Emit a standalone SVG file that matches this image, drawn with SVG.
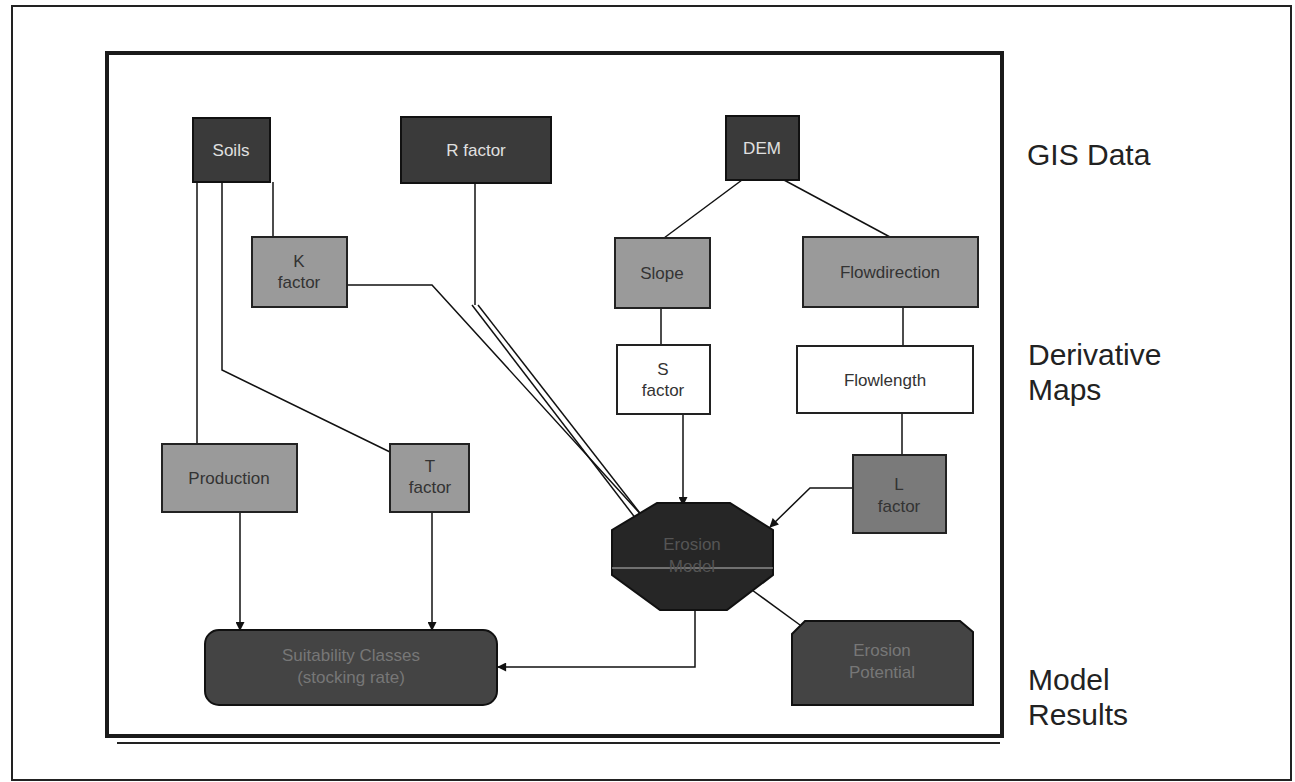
<svg xmlns="http://www.w3.org/2000/svg" width="1295" height="782" viewBox="0 0 1295 782">
<defs>
<marker id="ah" viewBox="0 0 10 10" refX="9" refY="5" markerWidth="10" markerHeight="9" markerUnits="userSpaceOnUse" orient="auto">
<path d="M0,0 L10,5 L0,10 z" fill="#111"/>
</marker>
<style>
.dark{fill:#3a3a3a;stroke:#111;stroke-width:2}
.gray{fill:#9a9a9a;stroke:#222;stroke-width:2}
.mid{fill:#7a7a7a;stroke:#222;stroke-width:2}
.white{fill:#fff;stroke:#222;stroke-width:2}
.lt{font-family:"Liberation Sans",Arial,sans-serif;font-size:17px;fill:#e0e0e0;text-anchor:middle}
.dt{font-family:"Liberation Sans",Arial,sans-serif;font-size:17px;fill:#333;text-anchor:middle}
.side{font-family:"Liberation Sans",Arial,sans-serif;font-size:30px;fill:#222}
.c{fill:none;stroke:#111;stroke-width:1.5}
.ca{fill:none;stroke:#111;stroke-width:1.5;marker-end:url(#ah)}
</style>
</defs>
<rect width="1295" height="782" fill="#fff"/>
<g id="frame">
<rect x="12" y="6" width="1279" height="774" fill="none" stroke="#222" stroke-width="2"/>
<rect x="107" y="53" width="895" height="683" fill="none" stroke="#1a1a1a" stroke-width="4"/>
<line x1="117" y1="743" x2="1000" y2="743" stroke="#222" stroke-width="2"/>
</g>
<g id="connectors">
<path class="c" d="M273,182 V237"/>
<path class="c" d="M197,182 V444"/>
<path class="c" d="M222,182 V370 L390,452"/>
<path class="ca" d="M347,285 H432 L655,530"/>
<path class="c" d="M475,183 V305"/>
<path class="ca" d="M472,305 L643,528"/>
<path class="ca" d="M478,305 L650,526"/>
<path class="c" d="M742,180 L664,238"/>
<path class="c" d="M784,180 L890,237"/>
<path class="c" d="M661,308 V345"/>
<path class="ca" d="M683,414 V505"/>
<path class="c" d="M903,307 V346"/>
<path class="c" d="M902,413 V455"/>
<path class="ca" d="M853,488 H810 L770,527"/>
<path class="c" d="M752,590 L800,625"/>
<path class="ca" d="M695,610 V667 H498"/>
<path class="ca" d="M240,512 V630"/>
<path class="ca" d="M432,512 V630"/>
</g>
<g id="soils"><rect class="dark" x="193" y="118" width="77" height="64"/><text class="lt" x="231" y="156">Soils</text></g>
<g id="rfactor"><rect class="dark" x="401" y="117" width="150" height="66"/><text class="lt" x="476" y="156">R factor</text></g>
<g id="dem"><rect class="dark" x="726" y="116" width="73" height="64"/><text class="lt" x="762" y="154">DEM</text></g>
<g id="kfactor"><rect class="gray" x="252" y="237" width="95" height="70"/><text class="dt" x="299" y="267">K</text><text class="dt" x="299" y="288">factor</text></g>
<g id="slope"><rect class="gray" x="615" y="238" width="95" height="70"/><text class="dt" x="662" y="279">Slope</text></g>
<g id="flowdirection"><rect class="gray" x="803" y="237" width="175" height="70"/><text class="dt" x="890" y="278">Flowdirection</text></g>
<g id="sfactor"><rect class="white" x="617" y="345" width="93" height="69"/><text class="dt" x="663" y="375">S</text><text class="dt" x="663" y="396">factor</text></g>
<g id="flowlength"><rect class="white" x="797" y="346" width="176" height="67"/><text class="dt" x="885" y="386">Flowlength</text></g>
<g id="production"><rect class="gray" x="162" y="444" width="135" height="68"/><text class="dt" x="229" y="484">Production</text></g>
<g id="tfactor"><rect class="gray" x="390" y="444" width="79" height="68"/><text class="dt" x="430" y="472">T</text><text class="dt" x="430" y="493">factor</text></g>
<g id="lfactor"><rect class="mid" x="853" y="455" width="93" height="78"/><text class="dt" x="899" y="490">L</text><text class="dt" x="899" y="512">factor</text></g>
<g id="model"><polygon class="dark" style="fill:#262626" points="657,503 730,503 773,530 773,575 727,610 660,610 612,575 612,530"/><line x1="612" y1="568" x2="773" y2="568" stroke="#bbb" stroke-width="1"/><text class="lt" x="692" y="550" style="fill:#555">Erosion</text><text class="lt" x="692" y="572" style="fill:#555">Model</text></g>
<g id="suitability"><rect class="dark" style="fill:#444" x="205" y="630" width="292" height="75" rx="14"/><text class="lt" x="351" y="661" style="fill:#777">Suitability Classes</text><text class="lt" x="351" y="683" style="fill:#777">(stocking rate)</text></g>
<g id="erosion"><path class="dark" style="fill:#444" d="M805,621 H960 L973,632 V705 H792 V634 Z"/><text class="lt" x="882" y="656" style="fill:#777">Erosion</text><text class="lt" x="882" y="678" style="fill:#777">Potential</text></g>
<g id="labels">
<text class="side" x="1027" y="165">GIS Data</text>
<text class="side" x="1028" y="365">Derivative</text>
<text class="side" x="1028" y="400">Maps</text>
<text class="side" x="1028" y="690">Model</text>
<text class="side" x="1028" y="725">Results</text>
</g>
</svg>
